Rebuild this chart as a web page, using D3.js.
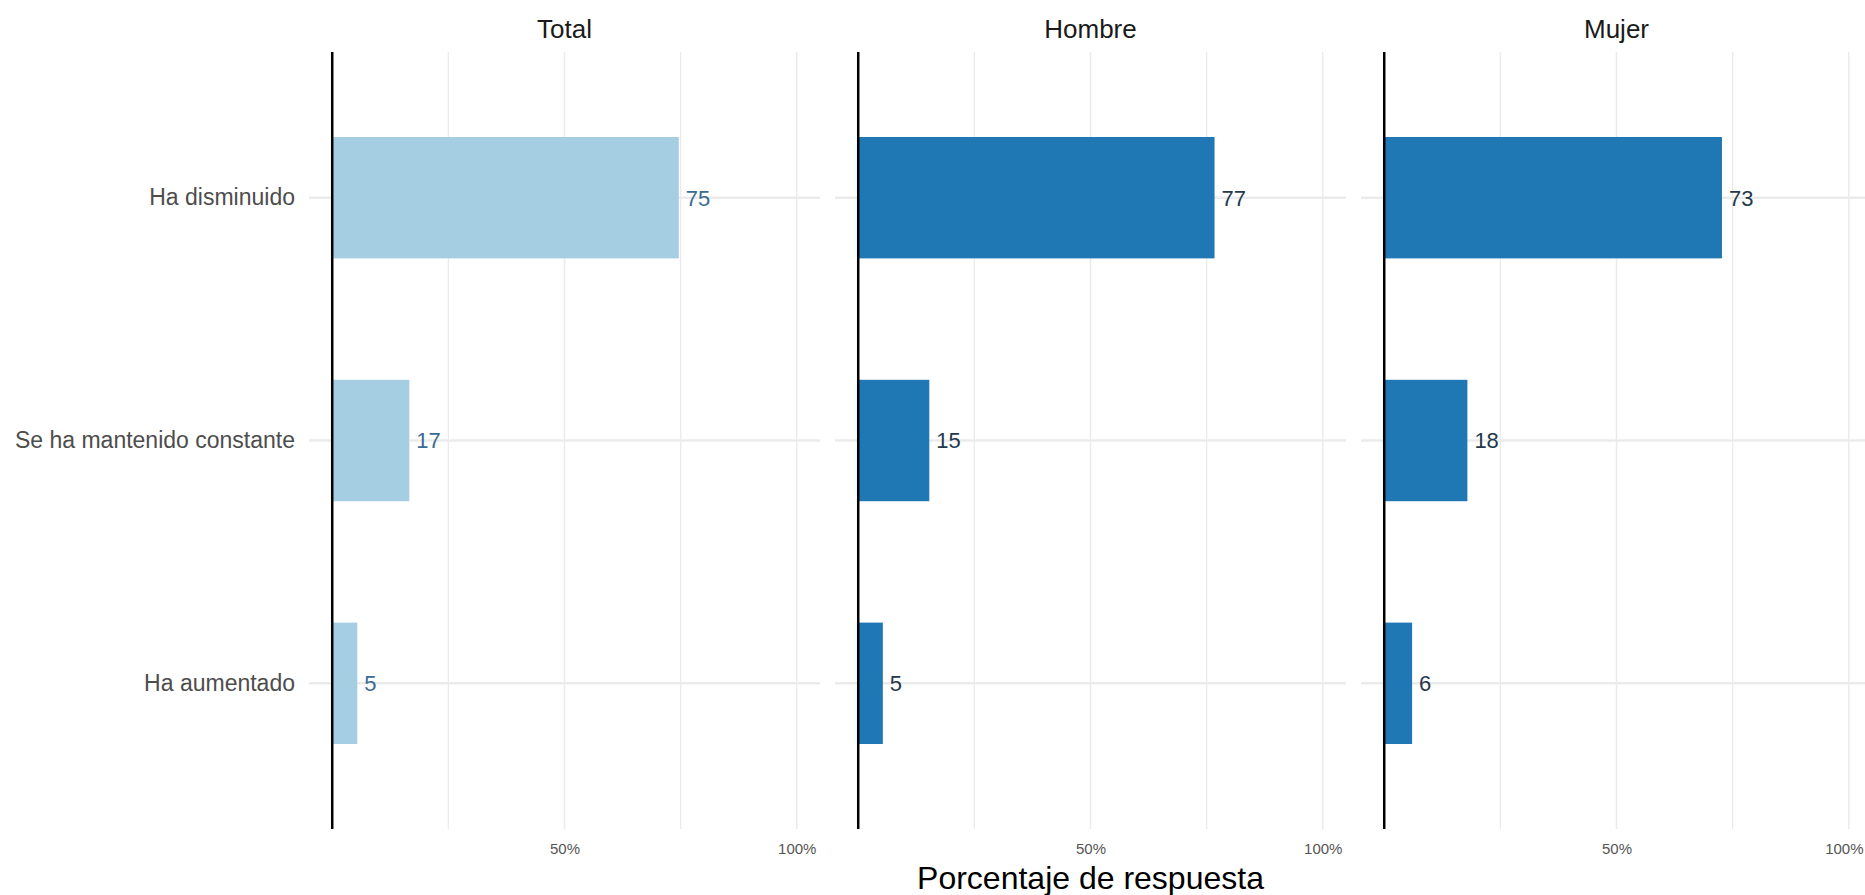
<!DOCTYPE html>
<html>
<head>
<meta charset="utf-8">
<script src="https://cdn.jsdelivr.net/npm/d3@7/dist/d3.min.js"></script>
<style>
  html, body { margin: 0; padding: 0; background: #ffffff; }
  svg { display: block; font-family: "Liberation Sans", Arial, Helvetica, sans-serif; }
</style>
</head>
<body>
<script>
// ---- data ----
const categories = ["Ha disminuido", "Se ha mantenido constante", "Ha aumentado"];
const panels = ["Total", "Hombre", "Mujer"];
const totalValues = [74.6, 16.6, 5.4];
const hombreValues = [76.7, 15.3, 5.3];
const mujerValues = [72.7, 17.9, 6.0];
const xTickValues = [50, 100];
const xTickLabels = ["50%", "100%"];
const xMinorValues = [25, 75];
const xTitle = "Porcentaje de respuesta";

const seriesValues = [totalValues, hombreValues, mujerValues];
const barColors = ["#a6cee3", "#1f78b4", "#1f78b4"];
const labelColors = ["#3a6b93", "#24384d", "#24384d"];

// ---- layout ----
const W = 1865, H = 895;
const panelLeft0 = 309, panelW = 511, panelGap = 15;
const plotTop = 52, plotBottom = 829;

const svg = d3.select("body").append("svg")
  .attr("width", W).attr("height", H)
  .attr("viewBox", `0 0 ${W} ${H}`);

const x = d3.scaleLinear().domain([-5, 105]).range([0, panelW]);
const y = d3.scaleBand().domain(categories).range([plotTop, plotBottom])
  .paddingInner(0.5).paddingOuter(0.35);

panels.forEach((p, pi) => {
  const left = panelLeft0 + pi * (panelW + panelGap);
  const g = svg.append("g").attr("transform", `translate(${left},0)`);
  const vals = seriesValues[pi];

  // minor vertical grid
  g.selectAll("line.minor").data(xMinorValues).join("line")
    .attr("x1", d => x(d)).attr("x2", d => x(d))
    .attr("y1", plotTop).attr("y2", plotBottom)
    .attr("stroke", "#ebebeb").attr("stroke-width", 1.3);
  // major vertical grid
  g.selectAll("line.major").data(xTickValues).join("line")
    .attr("x1", d => x(d)).attr("x2", d => x(d))
    .attr("y1", plotTop).attr("y2", plotBottom)
    .attr("stroke", "#ebebeb").attr("stroke-width", 1.5);
  // horizontal grid
  g.selectAll("line.hgrid").data(categories).join("line")
    .attr("x1", 0).attr("x2", panelW)
    .attr("y1", d => y(d) + y.bandwidth() / 2).attr("y2", d => y(d) + y.bandwidth() / 2)
    .attr("stroke", "#ebebeb").attr("stroke-width", 2.5);

  // bars
  g.selectAll("rect.bar").data(categories).join("rect")
    .attr("x", x(0))
    .attr("y", d => y(d))
    .attr("width", (d, i) => x(vals[i]) - x(0))
    .attr("height", y.bandwidth())
    .attr("fill", barColors[pi]);

  // value labels
  g.selectAll("text.val").data(categories).join("text")
    .attr("x", (d, i) => x(vals[i]) + 7)
    .attr("y", d => y(d) + y.bandwidth() / 2)
    .attr("dy", "0.36em")
    .attr("font-size", 22)
    .attr("fill", labelColors[pi])
    .text((d, i) => d3.format(".0f")(vals[i]));

  // axis line at 0
  g.append("line")
    .attr("x1", x(0)).attr("x2", x(0))
    .attr("y1", plotTop).attr("y2", plotBottom)
    .attr("stroke", "#000").attr("stroke-width", 2.5);

  // x axis tick labels
  const xAxis = d3.axisBottom(x).tickValues(xTickValues)
    .tickFormat((d, i) => xTickLabels[i]).tickSize(0).tickPadding(0);
  const ax = g.append("g").attr("transform", `translate(0,${plotBottom + 14})`).call(xAxis);
  ax.select(".domain").remove();
  ax.selectAll("text").attr("font-size", 15).attr("fill", "#555")
    .attr("font-family", "Liberation Sans, Arial, sans-serif");
  // keep labels inside the canvas
  ax.selectAll("text").each(function(d) {
    const bb = this.getBBox();
    const absRight = left + x(d) + bb.width / 2;
    if (absRight > W - 2) {
      d3.select(this).attr("dx", (W - 2 - absRight));
    }
  });

  // strip title
  g.append("text")
    .attr("x", panelW / 2).attr("y", 38)
    .attr("text-anchor", "middle")
    .attr("font-size", 26).attr("fill", "#1a1a1a")
    .text(p);
});

// y axis labels
const yAxis = d3.axisLeft(y).tickSize(0).tickPadding(0);
const yg = svg.append("g").attr("transform", `translate(295,0)`).call(yAxis);
yg.select(".domain").remove();
yg.selectAll("text").attr("font-size", 23).attr("fill", "#4d4d4d")
  .attr("font-family", "Liberation Sans, Arial, sans-serif");

// x title
svg.append("text")
  .attr("x", (panelLeft0 + panelLeft0 + 3 * panelW + 2 * panelGap) / 2)
  .attr("y", 889)
  .attr("text-anchor", "middle")
  .attr("font-size", 32).attr("fill", "#000")
  .text(xTitle);
</script>
</body>
</html>
